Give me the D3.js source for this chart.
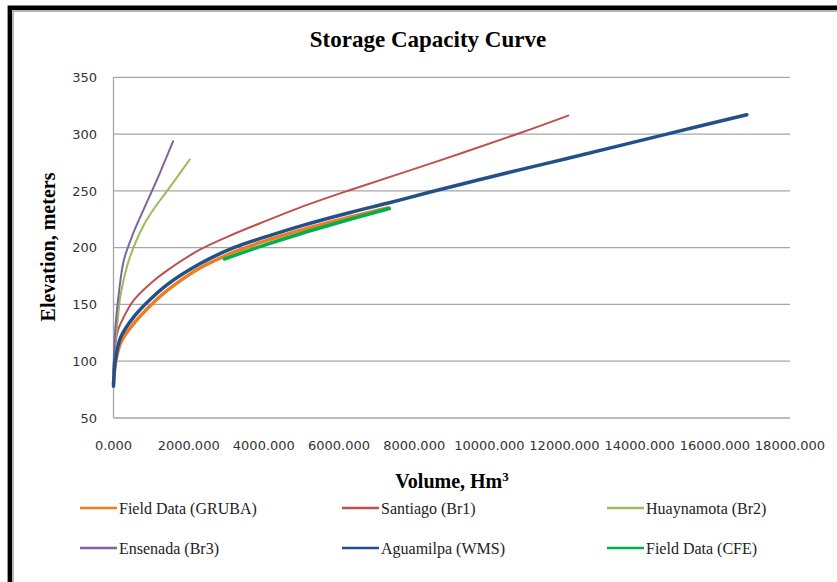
<!DOCTYPE html>
<html>
<head>
<meta charset="utf-8">
<script src="https://cdn.jsdelivr.net/npm/d3@7"></script>
<style>
  html, body { margin: 0; padding: 0; background: #fff; }
  svg { display: block; }
</style>
</head>
<body>
<svg id="chart" width="837" height="582"></svg>
<script>
// ---------------- DATA ----------------
const chartTitle = "Storage Capacity Curve";
const xTitle = "Volume, Hm";
const xTitleSup = "3";
const yTitle = "Elevation, meters";

const xTicks = [0, 2000, 4000, 6000, 8000, 10000, 12000, 14000, 16000, 18000];
const yTicks = [50, 100, 150, 200, 250, 300, 350];

const seriesNames = ["Field Data (GRUBA)", "Santiago (Br1)", "Huaynamota (Br2)",
                     "Ensenada (Br3)", "Aguamilpa (WMS)", "Field Data (CFE)"];
const seriesColors = ["#ED7D22", "#C0504D", "#9BBB59", "#8064A2", "#24508A", "#00B04C"];
const seriesWidths = [3.5, 2, 2, 2, 3.5, 3.5];

// volume (Hm3) / elevation (m) pairs
const grubaVol  = [0, 60, 200, 560, 1000, 1440, 2300, 3200, 4000, 5000, 6300, 7300];
const grubaElev = [80, 100, 117, 134, 149.5, 162.5, 182, 196, 205.5, 215.5, 227, 235];

const santiagoVol  = [0, 100, 275, 540, 985, 1430, 2310, 3200, 4090, 4970, 6300, 8610, 10820, 12100];
const santiagoElev = [92, 125, 139, 153.8, 168.5, 180, 198.4, 212, 224, 235.5, 250.8, 276, 301, 316.3];

const huaynamotaVol  = [0, 30, 100, 186, 364, 541, 806, 1072, 1427, 2029];
const huaynamotaElev = [90, 112, 132, 158, 184, 201, 220, 234, 250, 277.6];

const ensenadaVol  = [0, 20, 53, 142, 275, 541, 806, 984, 1250, 1587];
const ensenadaElev = [90, 112, 131, 160, 189, 214, 234, 247, 267, 293.7];

const aguamilpaVol  = [0, 50, 190, 540, 980, 1430, 2310, 3200, 4000, 4970, 6300, 7340, 8430, 10800, 12070, 14720, 16850];
const aguamilpaElev = [78, 101, 121, 139, 154.5, 167.5, 186, 200, 209, 219, 231, 239.5, 249, 268.5, 278.5, 300, 317];

const cfeVol  = [2950, 4000, 5000, 6300, 7340];
const cfeElev = [190, 202, 212.5, 225, 234.5];

// ---------------- CHART ----------------
const svg = d3.select("#chart");

const plot = { left: 113.5, right: 790, top: 77.3, bottom: 418 };

const x = d3.scaleLinear().domain([0, 18000]).range([plot.left, plot.right]);
const y = d3.scaleLinear().domain([50, 350]).range([plot.bottom, plot.top]);

// outer frame (black + grey inner line), extending past the canvas on right/bottom
svg.append("path")
  .attr("d", "M9.8,600 L9.8,7.8 L860,7.8")
  .attr("fill", "none").attr("stroke", "#000").attr("stroke-width", 4.4);
svg.append("path")
  .attr("d", "M13,600 L13,11 L860,11")
  .attr("fill", "none").attr("stroke", "#9a9a9a").attr("stroke-width", 1.4);

// gridlines
const gridColor = "#a6a6a6";
svg.append("g").selectAll("line")
  .data(yTicks.filter(d => d > 50))
  .join("line")
  .attr("x1", plot.left).attr("x2", plot.right)
  .attr("y1", d => y(d)).attr("y2", d => y(d))
  .attr("stroke", gridColor).attr("stroke-width", 1.3);

// axes lines
svg.append("line")
  .attr("x1", plot.left).attr("x2", plot.right)
  .attr("y1", y(50)).attr("y2", y(50))
  .attr("stroke", gridColor).attr("stroke-width", 1.3);
svg.append("line")
  .attr("x1", plot.left).attr("x2", plot.left)
  .attr("y1", plot.top).attr("y2", plot.bottom)
  .attr("stroke", gridColor).attr("stroke-width", 1.3);

// tick labels
const tickFont = "'DejaVu Sans', sans-serif";
svg.append("g").selectAll("text")
  .data(yTicks)
  .join("text")
  .attr("x", 97).attr("y", d => y(d))
  .attr("dy", "0.36em")
  .attr("text-anchor", "end")
  .attr("font-family", tickFont).attr("font-size", 13)
  .attr("fill", "#333")
  .text(d => d);

svg.append("g").selectAll("text")
  .data(xTicks)
  .join("text")
  .attr("x", d => x(d)).attr("y", 450)
  .attr("text-anchor", "middle")
  .attr("font-family", tickFont).attr("font-size", 13)
  .attr("fill", "#333")
  .text(d => d3.format(".3f")(d));

// titles
const serif = "'Liberation Serif', 'Times New Roman', serif";
svg.append("text")
  .attr("x", 428).attr("y", 47)
  .attr("text-anchor", "middle")
  .attr("font-family", serif).attr("font-weight", "bold").attr("font-size", 23)
  .attr("fill", "#000")
  .text(chartTitle);

const xt = svg.append("text")
  .attr("x", 452).attr("y", 488)
  .attr("text-anchor", "middle")
  .attr("font-family", serif).attr("font-weight", "bold").attr("font-size", 20)
  .attr("fill", "#000");
xt.append("tspan").text(xTitle);
xt.append("tspan").attr("dy", -7).attr("font-size", 13).text(xTitleSup);

svg.append("text")
  .attr("transform", "translate(55,247) rotate(-90)")
  .attr("text-anchor", "middle")
  .attr("font-family", serif).attr("font-weight", "bold").attr("font-size", 20)
  .attr("fill", "#000")
  .text(yTitle);

// series
const seriesData = [
  d3.zip(grubaVol, grubaElev),
  d3.zip(santiagoVol, santiagoElev),
  d3.zip(huaynamotaVol, huaynamotaElev),
  d3.zip(ensenadaVol, ensenadaElev),
  d3.zip(aguamilpaVol, aguamilpaElev),
  d3.zip(cfeVol, cfeElev)
];

const line = d3.line()
  .x(d => x(d[0])).y(d => y(d[1]))
  .curve(d3.curveCatmullRom.alpha(0.5));

svg.append("g").selectAll("path")
  .data(seriesData)
  .join("path")
  .attr("d", line)
  .attr("fill", "none")
  .attr("stroke", (d, i) => seriesColors[i])
  .attr("stroke-width", (d, i) => seriesWidths[i])
  .attr("stroke-linecap", "round")
  .attr("stroke-linejoin", "round");

// legend
const legendCols = [80, 342, 607];
const legendRows = [508, 548];
const lg = svg.append("g").selectAll("g")
  .data(seriesNames)
  .join("g")
  .attr("transform", (d, i) => `translate(${legendCols[i % 3]},${legendRows[Math.floor(i / 3)]})`);
lg.append("line")
  .attr("x1", 0).attr("x2", 37).attr("y1", 0).attr("y2", 0)
  .attr("stroke", (d, i) => seriesColors[i]).attr("stroke-width", 2.5);
lg.append("text")
  .attr("x", 39).attr("y", 0).attr("dy", "0.35em")
  .attr("font-family", serif).attr("font-size", 16)
  .attr("fill", "#222")
  .text(d => d);
</script>
</body>
</html>
